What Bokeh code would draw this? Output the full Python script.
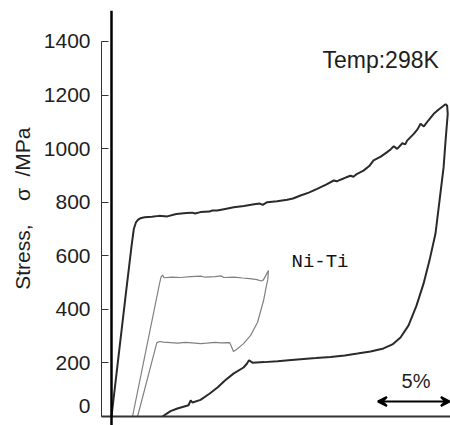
import math
from bokeh.plotting import figure
from bokeh.models import (Span, Arrow, VeeHead, Label, FixedTicker, Range1d,
                          LinearAxis)
from bokeh.embed import file_html
from bokeh.resources import INLINE

# ---- data (strain %, stress MPa) ----
dark_strain = [0.0, 0.5, 1.0, 1.4, 1.55, 1.7, 1.85, 2.0, 2.3, 2.8, 3.3, 3.87, 4.5, 5.2,
               5.6, 5.8, 6.18, 6.8, 7.0, 7.34, 7.9, 8.49, 9.2, 9.9, 10.3, 10.5, 10.81,
               11.5, 12.2, 12.6, 13.13, 13.7, 14.28, 14.9, 15.44, 15.65, 15.9, 16.3,
               16.6, 16.8, 17.06, 17.5, 17.9, 18.2, 18.7, 19.14, 19.4, 19.6, 19.84,
               20.2, 20.4, 20.53, 20.99, 21.25, 21.46, 21.69, 22.0, 22.38, 22.7,
               23.08, 23.2, 23.31, 23.35, 23.2, 23.06, 22.78, 22.5, 22.08, 21.67,
               21.18, 20.63, 20.07, 19.51, 18.89, 17.99, 17.08, 16.2, 15.21, 14.2,
               13.13, 12.3, 11.53, 10.6, 9.79, 9.55, 9.4, 9.17, 8.47, 7.9, 7.36,
               6.8, 6.18, 5.63, 5.5, 5.35, 4.58, 4.1, 3.54]
dark_stress = [0, 230, 460, 640, 700, 725, 735, 740, 744, 746, 749, 747, 756, 760,
               761, 758, 763, 765, 769, 769, 775, 781, 786, 792, 795, 790, 800,
               804, 809, 814, 825, 836, 850, 866, 881, 878, 884, 893,
               899, 895, 906, 918, 935, 956, 970, 987, 998, 1009, 999,
               1020, 1016, 1030, 1055, 1072, 1093, 1083, 1105, 1130, 1145,
               1161, 1166, 1160, 1130, 1030, 929, 806, 683, 582, 496,
               414, 340, 295, 269, 254, 243, 235, 228, 222, 218,
               214, 210, 206, 203, 201, 210, 197, 183, 160, 135, 108,
               85, 62, 52, 60, 42, 30, 20, 0]

niti_strain = [1.46, 3.35, 3.45, 3.55, 3.65, 4.2, 4.8, 5.5, 6.2, 6.5, 7.2, 7.6, 7.8,
               8.5, 9.1, 9.6, 10.1, 10.4, 10.55, 10.7, 10.9, 10.85, 10.76, 10.56,
               10.14, 9.65, 9.17, 8.68, 8.47, 8.33, 8.2, 7.6, 7.2, 6.6, 6.18, 5.6,
               5.14, 4.6, 4.1, 3.6, 3.35, 3.15, 1.81]
niti_stress = [0, 500, 522, 528, 518, 520, 519, 522, 524, 520, 522, 525, 519,
               520, 517, 515, 511, 506, 510, 525, 545, 510, 489, 433,
               351, 302, 272, 250, 243, 261, 276, 275, 277, 274, 272, 275,
               277, 274, 276, 278, 280, 276, 0]

y_ticks = [0, 200, 400, 600, 800, 1000, 1200, 1400]
y_tick_labels = ["0", "200", "400", "600", "800", "1000", "1200", "1400"]
y_label = "Stress,\u00a0\u00a0\u00a0\u00a0\u03c3\u00a0\u00a0/MPa"
temp_label = "Temp:298K"
alloy_label = "Ni-Ti"
scale_label = "5%"
scale_start, scale_end = 18.5, 23.5

FONT = "Liberation Sans"
TXT = "#1e1e1e"
X_MIN, X_MAX = -7.708, 23.542
AXIS_X = -0.694   # strain where the stress axis is drawn

p = figure(width=450, height=425, output_backend="svg", toolbar_location=None,
           x_range=Range1d(X_MIN, X_MAX), y_range=Range1d(-33.6, 1515.7),
           x_axis_location=None, y_axis_location=None, min_border_left=0,
           min_border_right=0, min_border_top=10, min_border_bottom=0)
p.grid.visible = False
p.outline_line_color = None

# stress axis
ax = LinearAxis(fixed_location=AXIS_X)
ax.ticker = FixedTicker(ticks=y_ticks)
overrides = {t: s for t, s in zip(y_ticks, y_tick_labels)}
overrides[y_ticks[0]] = ""
ax.major_label_overrides = overrides
ax.bounds = (y_ticks[0], y_ticks[-1])
ax.major_tick_in = 7
ax.major_tick_out = 0
ax.minor_tick_in = 0
ax.minor_tick_out = 0
ax.axis_line_color = "#333333"
ax.major_tick_line_color = "#333333"
ax.major_label_standoff = 11
ax.major_label_text_font = FONT
ax.major_label_text_font_size = "21px"
ax.major_label_text_color = TXT
p.add_layout(ax, "left")

# strain axis: a bare base line at zero stress
xax = LinearAxis(fixed_location=0)
xax.ticker = FixedTicker(ticks=[])
xax.bounds = (AXIS_X, X_MAX)
xax.axis_line_width = 2
xax.axis_line_color = "#333333"
xax.major_tick_in = 0
xax.major_tick_out = 0
xax.minor_tick_in = 0
xax.minor_tick_out = 0
p.add_layout(xax, "below")

# the "0" label sits a little higher in the original
p.add_layout(Label(x=-1.46, y=y_ticks[0], text=y_tick_labels[0], y_offset=10,
                   text_align="right", text_baseline="middle", text_font=FONT,
                   text_font_size="21px", text_color=TXT))
p.add_layout(Label(x=-6.18, y=776, text=y_label, angle=math.pi / 2,
                   text_align="center", text_baseline="middle", text_font=FONT,
                   text_font_size="21px", text_color=TXT))

# zero-strain line
p.add_layout(Span(location=0, dimension="height", line_color="black", line_width=2.5))

p.line(dark_strain, dark_stress, line_color="#2a2a2a", line_width=2)
p.line(niti_strain, niti_stress, line_color="#808080", line_width=1.2)

p.add_layout(Label(x=14.65, y=1284, text=temp_label, text_font=FONT,
                   text_font_size="23px", text_color=TXT))
p.add_layout(Label(x=12.5, y=534, text=alloy_label, text_font="Liberation Mono",
                   text_font_size="19px", text_color="#111111"))
p.add_layout(Label(x=21.15, y=90, text=scale_label, text_font=FONT, text_align="center",
                   text_font_size="20px", text_color=TXT))
p.add_layout(Arrow(start=VeeHead(size=9, line_color="black", line_width=2),
                   end=VeeHead(size=9, line_color="black", line_width=2),
                   x_start=scale_start, y_start=56, x_end=scale_end, y_end=56,
                   line_color="black", line_width=2))

open("out.html", "w").write(file_html(p, INLINE))
